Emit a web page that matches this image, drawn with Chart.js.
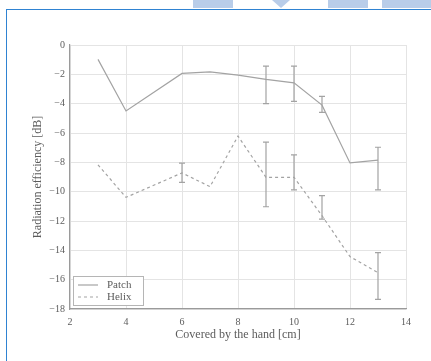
<!DOCTYPE html>
<html>
<head>
<meta charset="utf-8">
<script src="https://cdn.jsdelivr.net/npm/chart.js@4/dist/chart.umd.min.js"></script>
<style>
  html, body { margin: 0; padding: 0; background: #fff; }
  body { width: 431px; height: 361px; position: relative; overflow: hidden; }
  .strip { position: absolute; top: 0; height: 8px; background: #b9cde9; }
  .tri { position: absolute; top: 0; left: 272px; width: 0; height: 0;
         border-left: 9px solid transparent; border-right: 9px solid transparent;
         border-top: 8px solid #b9cde9; }
  .frame { position: absolute; left: 6px; top: 9px; width: 440px; height: 370px;
           border: 1.5px solid #2f83d2; box-sizing: border-box; }
  #wrap { position: absolute; left: 0; top: 0; width: 431px; height: 361px; }
</style>
</head>
<body>
<div class="strip" style="left:193px;width:40px"></div>
<div class="tri"></div>
<div class="strip" style="left:328px;width:40px"></div>
<div class="strip" style="left:382px;width:49px"></div>
<div class="frame"></div>
<div id="wrap"><canvas id="chart"></canvas></div>

<script>
// values
const coveredCm = [3, 4, 6, 7, 8, 9, 10, 11, 12, 13];
const patchDb = [-0.98, -4.5, -1.94, -1.83, -2.05, -2.35, -2.58, -4.1, -8.04, -7.85];
const helixDb = [-8.17, -10.39, -8.72, -9.66, -6.21, -9.02, -9.02, -11.64, -14.43, -15.53];

// error bars (null = no bar)
const patchHigh = [null, null, null, null, null, -1.44, -1.44, -3.5, null, -6.97];
const patchLow  = [null, null, null, null, null, -4.0, -3.84, -4.6, null, -9.88];
const helixHigh = [null, null, -8.06, null, null, -6.62, -7.49, -10.27, null, -14.16];
const helixLow  = [null, null, -9.36, null, null, -11.03, -9.88, -11.87, null, -17.35];

const xTicks = [2, 4, 6, 8, 10, 12, 14];
const yTicks = [0, -2, -4, -6, -8, -10, -12, -14, -16, -18];

const lineColor = "#a3a3a3";
const textColor = "#5c5c5c";
const serif = "'Liberation Serif', 'DejaVu Serif', serif";

const toPoints = (ys) => coveredCm.map((x, i) => ({ x: x, y: ys[i] }));

const errorBars = {
  id: "errorBars",
  afterDatasetsDraw(chart) {
    const { ctx, scales: { x, y } } = chart;
    const sets = [[patchHigh, patchLow], [helixHigh, helixLow]];
    ctx.save();
    ctx.strokeStyle = lineColor;
    ctx.lineWidth = 1.2;
    sets.forEach(([hi, lo]) => {
      coveredCm.forEach((cx, i) => {
        if (hi[i] === null) return;
        const px = x.getPixelForValue(cx);
        const top = y.getPixelForValue(hi[i]);
        const bot = y.getPixelForValue(lo[i]);
        ctx.beginPath();
        ctx.moveTo(px, top); ctx.lineTo(px, bot);
        ctx.moveTo(px - 3, top); ctx.lineTo(px + 3, top);
        ctx.moveTo(px - 3, bot); ctx.lineTo(px + 3, bot);
        ctx.stroke();
      });
    });
    ctx.restore();
  }
};

// matlab-ish legend box in lower left corner of the plot
const boxLegend = {
  id: "boxLegend",
  afterDraw(chart) {
    const { ctx, chartArea } = chart;
    const bx = chartArea.left + 3, by = chartArea.bottom - 33;
    ctx.save();
    ctx.fillStyle = "#fff";
    ctx.fillRect(bx, by, 70, 29);
    ctx.strokeStyle = "#b5b5b5";
    ctx.lineWidth = 1;
    ctx.strokeRect(bx + 0.5, by + 0.5, 70, 29);
    const rows = [["Patch", []], ["Helix", [3, 3]]];
    ctx.font = "11px " + serif;
    ctx.textBaseline = "middle";
    rows.forEach(([label, dash], i) => {
      const ry = by + 9 + i * 12;
      ctx.strokeStyle = lineColor;
      ctx.lineWidth = 1.2;
      ctx.setLineDash(dash);
      ctx.beginPath();
      ctx.moveTo(bx + 5, ry); ctx.lineTo(bx + 25, ry);
      ctx.stroke();
      ctx.setLineDash([]);
      ctx.fillStyle = textColor;
      ctx.fillText(label, bx + 34, ry);
    });
    ctx.restore();
  }
};

new Chart(document.getElementById("chart"), {
  type: "line",
  data: {
    datasets: [
      {
        label: "Patch",
        data: toPoints(patchDb),
        borderColor: lineColor,
        borderWidth: 1.2,
        pointRadius: 0,
        tension: 0
      },
      {
        label: "Helix",
        data: toPoints(helixDb),
        borderColor: lineColor,
        borderWidth: 1.2,
        borderDash: [3, 3],
        pointRadius: 0,
        tension: 0
      }
    ]
  },
  options: {
    responsive: true,
    maintainAspectRatio: false,
    animation: false,
    events: [],
    layout: { padding: { left: 20, top: 45, right: 25, bottom: 19 } },
    plugins: {
      legend: { display: false },
      tooltip: { enabled: false }
    },
    scales: {
      x: {
        type: "linear",
        min: 2,
        max: 14,
        afterFit: (s) => { s.height = 33; },
        afterBuildTicks: (s) => { s.ticks = xTicks.map(v => ({ value: v })); },
        grid: { color: "#e4e4e4", tickLength: 0, drawTicks: false },
        border: { color: "#9a9a9a", width: 1.2 },
        ticks: { color: textColor, padding: 7, font: { family: serif, size: 10 } },
        title: {
          display: true,
          text: "Covered by the hand [cm]",
          color: textColor,
          padding: { top: 0, bottom: 0 },
          font: { family: serif, size: 12 }
        }
      },
      y: {
        min: -18,
        max: 0,
        afterFit: (s) => { s.width = 50; },
        afterBuildTicks: (s) => { s.ticks = yTicks.map(v => ({ value: v })); },
        grid: { color: "#e4e4e4", drawTicks: false },
        border: { color: "#9a9a9a", width: 1.2 },
        ticks: {
          color: textColor,
          padding: 5,
          font: { family: serif, size: 10 },
          callback: (v) => v < 0 ? "\u2212" + Math.abs(v) : String(v)
        },
        title: {
          display: true,
          text: "Radiation efficiency [dB]",
          color: textColor,
          padding: { top: 11, bottom: 0 },
          font: { family: serif, size: 12 }
        }
      }
    }
  },
  plugins: [errorBars, boxLegend]
});
</script>
</body>
</html>
